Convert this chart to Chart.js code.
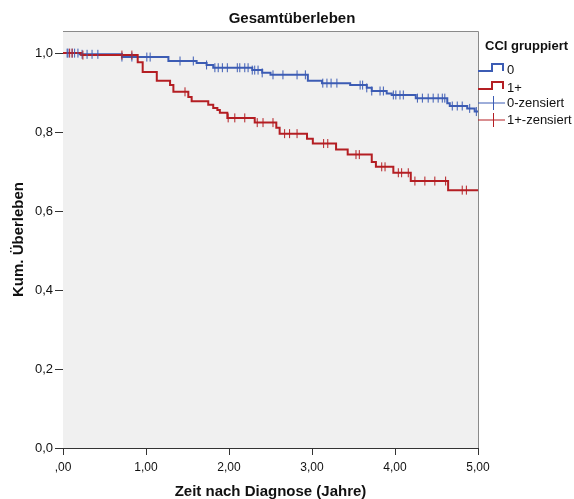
<!DOCTYPE html>
<html><head><meta charset="utf-8">
<script src="https://cdn.jsdelivr.net/npm/chart.js@4/dist/chart.umd.min.js"></script>
<style>html,body{margin:0;padding:0;background:#fff}canvas{display:block}</style>
</head><body>
<canvas id="c" width="574" height="499"></canvas>
<script>
const chartTitle = 'Gesamtüberleben';
const xTitle = 'Zeit nach Diagnose (Jahre)';
const yTitle = 'Kum. Überleben';
const legendTitle = 'CCI gruppiert';
const legendLabels = ['0', '1+', '0-zensiert', '1+-zensiert'];
const xTicks = [0, 1, 2, 3, 4, 5];
const xTickLabels = [',00', '1,00', '2,00', '3,00', '4,00', '5,00'];
const yTicks = [0, 0.2, 0.4, 0.6, 0.8, 1.0];
const yTickLabels = ['0,0', '0,2', '0,4', '0,6', '0,8', '1,0'];
const followUpEnd = 5.0;

// group "0"
const blueTimes = [0, 0.20, 0.71, 1.27, 1.61, 1.73, 1.81, 2.28, 2.40, 2.50, 2.95, 3.12, 3.46, 3.66, 3.72, 3.90, 3.96, 4.25, 4.63, 4.66, 4.87, 4.96];
const blueSurv = [1.0, 0.997, 0.990, 0.980, 0.975, 0.970, 0.963, 0.957, 0.950, 0.945, 0.930, 0.924, 0.919, 0.912, 0.904, 0.898, 0.894, 0.886, 0.873, 0.866, 0.860, 0.852];
const blueCensored = [0.05, 0.06, 0.11, 0.14, 0.18, 0.23, 0.29, 0.35, 0.42, 0.71, 0.83, 1.01, 1.05, 1.41, 1.57, 1.73, 1.83, 1.87, 1.92, 1.98, 2.10, 2.13, 2.19, 2.23, 2.28, 2.31, 2.35, 2.40, 2.53, 2.65, 2.82, 2.92, 3.13, 3.18, 3.23, 3.30, 3.58, 3.61, 3.66, 3.72, 3.82, 3.86, 3.98, 4.01, 4.06, 4.10, 4.27, 4.33, 4.40, 4.46, 4.52, 4.57, 4.60, 4.69, 4.75, 4.81, 4.90, 4.98];

// group "1+"
const redTimes = [0, 0.22, 0.90, 0.96, 1.13, 1.29, 1.33, 1.51, 1.55, 1.75, 1.81, 1.86, 1.89, 1.98, 2.31, 2.57, 2.61, 2.94, 3.01, 3.29, 3.43, 3.72, 3.77, 3.98, 4.19, 4.64];
const redSurv = [1.0, 0.995, 0.977, 0.952, 0.930, 0.919, 0.902, 0.889, 0.878, 0.869, 0.861, 0.856, 0.849, 0.836, 0.824, 0.811, 0.796, 0.783, 0.771, 0.756, 0.743, 0.724, 0.712, 0.697, 0.676, 0.653];
const redCensored = [0.08, 0.11, 0.24, 0.71, 0.83, 1.47, 1.99, 2.07, 2.19, 2.34, 2.41, 2.53, 2.67, 2.73, 2.82, 3.14, 3.19, 3.53, 3.57, 3.84, 3.88, 4.04, 4.08, 4.16, 4.24, 4.36, 4.48, 4.61, 4.81, 4.86];

const BLUE = '#3c5cb4';
const RED = '#b41e23';
const FONT = "'Liberation Sans', Arial, sans-serif";

function survAt(times, surv, t) {
  let s = surv[0];
  for (let i = 0; i < times.length; i++) { if (times[i] <= t) s = surv[i]; }
  return s;
}
function curve(times, surv) {
  const pts = times.map((t, i) => ({x: t, y: surv[i]}));
  pts.push({x: followUpEnd, y: surv[surv.length - 1]});
  return pts;
}
function marks(times, surv, cens) {
  return cens.map(t => ({x: t, y: survAt(times, surv, t)}));
}

const bgPlugin = {
  id: 'bg',
  beforeDatasetsDraw(chart) {
    const {ctx, chartArea: a} = chart;
    ctx.save();
    ctx.fillStyle = '#f0f0f0';
    ctx.fillRect(a.left, a.top, a.right - a.left, a.bottom - a.top);
    ctx.restore();
  },
  afterDraw(chart) {
    const {ctx, chartArea: a} = chart;
    ctx.save();
    ctx.strokeStyle = '#8a8a8a';
    ctx.lineWidth = 1;
    ctx.beginPath();
    ctx.moveTo(a.left, a.top + 0.5);
    ctx.lineTo(a.right + 0.5, a.top + 0.5);
    ctx.lineTo(a.right + 0.5, a.bottom);
    ctx.stroke();
    // main title
    ctx.fillStyle = '#111';
    ctx.textBaseline = 'middle';
    ctx.textAlign = 'center';
    ctx.font = 'bold 15px ' + FONT;
    ctx.fillText(chartTitle, 292, 19);
    // legend
    const lx = 478, tx = 507;
    ctx.textAlign = 'left';
    ctx.font = 'bold 13px ' + FONT;
    ctx.fillText(legendTitle, 485, 46);
    ctx.font = '13px ' + FONT;
    const rows = [71, 89, 104, 121];
    const cols = [BLUE, RED, BLUE, RED];
    rows.forEach((y, i) => {
      ctx.strokeStyle = cols[i];
      if (i < 2) {
        ctx.lineWidth = 2;
        ctx.lineJoin = 'miter';
        ctx.beginPath();
        ctx.moveTo(lx, y);
        ctx.lineTo(492, y);
        ctx.lineTo(492, y - 7);
        ctx.lineTo(503, y - 7);
        ctx.lineTo(503, y);
        ctx.stroke();
      } else {
        ctx.lineWidth = 1;
        ctx.beginPath();
        ctx.moveTo(lx, y - 1);
        ctx.lineTo(505, y - 1);
        ctx.moveTo(493.5, y - 8);
        ctx.lineTo(493.5, y + 6);
        ctx.stroke();
      }
      ctx.fillStyle = '#111';
      ctx.fillText(legendLabels[i], tx, y - 1);
    });
    ctx.restore();
  }
};

new Chart(document.getElementById('c'), {
  type: 'line',
  data: {
    datasets: [
      {label: legendLabels[0], data: curve(blueTimes, blueSurv), borderColor: BLUE, borderWidth: 2, stepped: true, pointRadius: 0, fill: false, borderJoinStyle: 'miter', order: 4},
      {label: legendLabels[1], data: curve(redTimes, redSurv), borderColor: RED, borderWidth: 2, stepped: true, pointRadius: 0, fill: false, borderJoinStyle: 'miter', order: 3},
      {label: legendLabels[2], data: marks(blueTimes, blueSurv, blueCensored), showLine: false, pointStyle: 'line', rotation: 90, pointRadius: 4.5, pointBorderWidth: 1, borderColor: BLUE, pointBorderColor: BLUE, order: 2},
      {label: legendLabels[3], data: marks(redTimes, redSurv, redCensored), showLine: false, pointStyle: 'line', rotation: 90, pointRadius: 4.5, pointBorderWidth: 1, borderColor: RED, pointBorderColor: RED, order: 1}
    ]
  },
  options: {
    responsive: false,
    animation: false,
    events: [],
    layout: {padding: {left: 0, right: 96, top: 31, bottom: 0}},
    plugins: {
      legend: {display: false},
      tooltip: {enabled: false},
      title: {display: false}
    },
    scales: {
      x: {
        type: 'linear', min: 0, max: 5,
        afterFit(s) { s.height = 51; },
        afterBuildTicks(s) { s.ticks = xTicks.map(v => ({value: v})); },
        ticks: {color: '#111', font: {family: FONT, size: 12}, padding: 5, maxRotation: 0,
          callback: (v) => xTickLabels[xTicks.indexOf(v)]},
        grid: {display: true, drawOnChartArea: false, drawTicks: true, tickLength: 7, color: '#333'},
        border: {display: true, color: '#333', width: 1},
        title: {display: true, text: xTitle, color: '#111', font: {family: FONT, size: 15, weight: 'bold'}, padding: {top: 0, bottom: -2}}
      },
      y: {
        min: 0, max: 1.056,
        afterFit(s) { s.width = 63; },
        afterBuildTicks(s) { s.ticks = yTicks.map(v => ({value: v})); },
        ticks: {color: '#111', font: {family: FONT, size: 13}, padding: 2,
          callback: (v) => yTickLabels[yTicks.findIndex(t => Math.abs(t - v) < 1e-9)]},
        grid: {display: true, drawOnChartArea: false, drawTicks: true, tickLength: 8, color: '#333'},
        border: {display: true, color: '#333', width: 1},
        title: {display: true, text: yTitle, color: '#111', font: {family: FONT, size: 15, weight: 'bold'}, padding: {top: 10, bottom: 10}}
      }
    }
  },
  plugins: [bgPlugin]
});
</script>
</body></html>
